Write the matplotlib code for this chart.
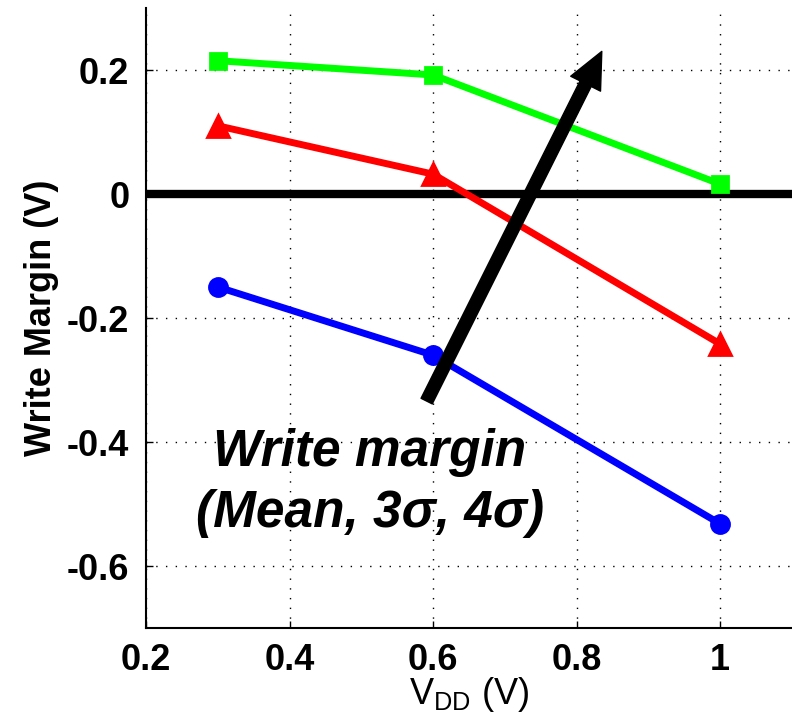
import matplotlib
matplotlib.use("Agg")
import matplotlib.pyplot as plt
from matplotlib.patches import FancyArrowPatch

plt.rcParams['font.family'] = ['Liberation Sans', 'DejaVu Sans']
plt.rcParams['mathtext.fontset'] = 'custom'
plt.rcParams['mathtext.rm'] = 'Liberation Sans'

vdd = [0.3, 0.6, 1.0]
wm_4sigma = [-0.150, -0.260, -0.532]
wm_3sigma = [0.110, 0.032, -0.242]
wm_mean = [0.215, 0.192, 0.016]

x_ticks = [0.2, 0.4, 0.6, 0.8, 1.0]
x_tick_labels = ['0.2', '0.4', '0.6', '0.8', '1']
y_ticks = [-0.6, -0.4, -0.2, 0.0, 0.2]
y_tick_labels = ['-0.6', '-0.4', '-0.2', '0', '0.2']

arrow_tail = (0.591, -0.334)
arrow_tip = (0.835, 0.230)

fig = plt.figure(figsize=(7.92, 7.16), dpi=100)
ax = fig.add_axes([146/792, 88/716, 1 - 146/792, 620/716])
ax.set_xlim(0.2, 1.1)
ax.set_ylim(-0.7, 0.3)

ax.set_xticks(x_ticks)
ax.set_xticklabels(x_tick_labels)
ax.set_yticks(y_ticks)
ax.set_yticklabels(y_tick_labels)
ax.tick_params(direction='in', length=5, width=1, labelsize=26)
ax.tick_params(axis='x', pad=11)
ax.tick_params(axis='y', pad=12)
for lab in ax.get_xticklabels() + ax.get_yticklabels():
    lab.set_fontweight('bold')

ax.grid(True, color='black', linestyle=(0, (1, 6)), linewidth=1.0)
ax.set_axisbelow(True)
for s in ['top', 'right']:
    ax.spines[s].set_visible(False)
for s in ['left', 'bottom']:
    ax.spines[s].set_linewidth(1.5)

ax.axhline(0, color='black', linewidth=6, zorder=2)

ax.plot(vdd, wm_4sigma, color='#0000FF', linewidth=5, marker='o', markersize=13,
        markerfacecolor='#0000FF', markeredgewidth=2, zorder=3)
ax.plot(vdd, wm_3sigma, color='#FF0000', linewidth=5, marker='^', markersize=16,
        markerfacecolor='#FF0000', markeredgewidth=2, zorder=3)
ax.plot(vdd, wm_mean, color='#00FF00', linewidth=5, marker='s', markersize=12,
        markerfacecolor='#00FF00', markeredgewidth=2, zorder=3)

arr = FancyArrowPatch(arrow_tail, arrow_tip,
                      arrowstyle='simple,tail_width=9,head_width=24,head_length=26',
                      mutation_scale=1, color='black', zorder=4,
                      shrinkA=0, shrinkB=0)
ax.add_patch(arr)

ax.text(0.512, -0.466, 'Write margin\n(Mean, 3σ, 4σ)', fontsize=37, fontweight='bold',
        fontstyle='italic', ha='center', va='center', linespacing=1.3, zorder=5)

ax.set_ylabel('Write Margin (V)', fontsize=26, fontweight='bold', labelpad=6)
ax.set_xlabel(r'V$_{\mathrm{DD}}$ (V)', fontsize=26, labelpad=-2)

fig.savefig('out.png', dpi=100)
